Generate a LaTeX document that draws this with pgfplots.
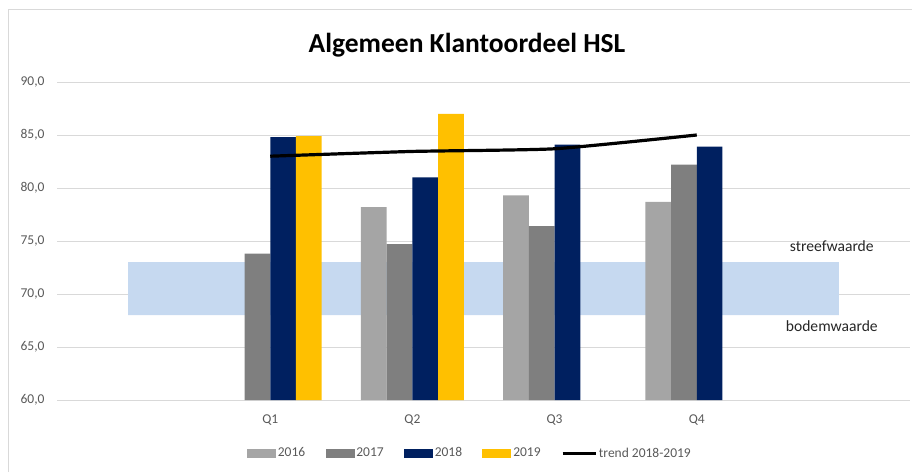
\documentclass[border=0pt]{standalone}
\usepackage{pgfplots}
\pgfplotsset{compat=1.18}
\usepackage{fontspec}
\setmainfont{Carlito}
\definecolor{c16}{RGB}{165,165,165}
\definecolor{c17}{RGB}{127,127,127}
\definecolor{c18}{RGB}{0,32,96}
\definecolor{c19}{RGB}{255,192,0}
\definecolor{bandc}{RGB}{198,217,240}
\definecolor{txt}{RGB}{89,89,89}
\definecolor{gridc}{RGB}{217,217,217}
\pgfplotsset{
  barleg/.style={legend image code/.code={\fill[##1] (0pt,-4.5pt) rectangle (29pt,4.5pt);}},
}
\begin{document}
\begin{tikzpicture}
\useasboundingbox (0pt,0pt) rectangle (912pt,472pt);
\draw[gridc, line width=0.8pt] (8pt,0pt) -- (8pt,463pt) -- (912pt,463pt);
\node[font=\fontsize{27.5}{30}\selectfont\bfseries] at (467pt,427pt) {Algemeen Klantoordeel HSL};
\begin{axis}[
  at={(57pt,72pt)}, anchor=south west, scale only axis,
  width=853pt, height=318pt,
  xmin=-1.5, xmax=4.5, ymin=60, ymax=90,
  xtick={0,1,2,3}, xticklabels={Q1,Q2,Q3,Q4},
  ytick={60,65,70,75,80,85,90},
  /pgf/number format/fixed, /pgf/number format/fixed zerofill,
  /pgf/number format/precision=1, /pgf/number format/use comma,
  /pgf/number format/assume math mode=true,
  yticklabel style={text=txt, font=\fontsize{13.5}{16}\selectfont, xshift=-9pt},
  xticklabel style={text=txt, font=\fontsize{13.5}{16}\selectfont, yshift=-11pt},
  major tick length=0pt,
  axis line style={draw=none},
  ymajorgrids, grid style={gridc, line width=0.8pt},
  clip=false,
  legend style={at={(0.484,-0.167)}, anchor=center, draw=none, fill=none,
    font=\fontsize{13.5}{16}\selectfont, text=txt,
    /tikz/every even column/.append style={column sep=18.5pt},
    nodes={inner sep=1.8pt}},
  legend columns=5,
]
\addplot[fill=bandc, draw=none, forget plot] coordinates {(-1,68) (4,68) (4,73) (-1,73) (-1,68)};
\addplot[ybar, bar width=0.181, bar shift=-0.2715, fill=c16, draw=none, barleg] coordinates {(1,78.2) (2,79.3) (3,78.7)};
\addplot[ybar, bar width=0.181, bar shift=-0.0905, fill=c17, draw=none, barleg] coordinates {(0,73.8) (1,74.7) (2,76.4) (3,82.2)};
\addplot[ybar, bar width=0.181, bar shift=0.0905, fill=c18, draw=none, barleg] coordinates {(0,84.8) (1,81.0) (2,84.1) (3,83.9)};
\addplot[ybar, bar width=0.181, bar shift=0.2715, fill=c19, draw=none, barleg] coordinates {(0,84.9) (1,87.0)};
\addplot[black, line width=3.2pt, smooth, tension=0.3, mark=none,
  legend image code/.code={\draw[black, line width=3.2pt] (0pt,0pt) -- (33pt,0pt);}]
  coordinates {(0,83.0) (1,83.45) (2,83.7) (3,85.0)};
\legend{2016,2017,2018,2019,trend 2018-2019}
\node[font=\fontsize{15.6}{18}\selectfont, text={rgb,255:red,38;green,38;blue,38}] at (axis cs:3.95,74.5) {streefwaarde};
\node[font=\fontsize{15.6}{18}\selectfont, text={rgb,255:red,38;green,38;blue,38}] at (axis cs:3.95,67.0) {bodemwaarde};
\end{axis}
\end{tikzpicture}
\end{document}
